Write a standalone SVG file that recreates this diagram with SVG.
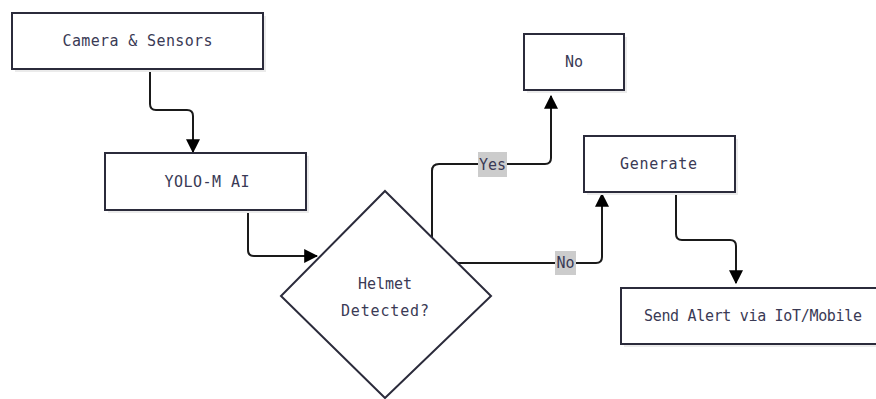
<svg xmlns="http://www.w3.org/2000/svg" width="876" height="399" viewBox="0 0 876 399">
<defs>
<style>
.box{fill:#fff;stroke:#2b2b3b;stroke-width:2}
.sh{fill:#ebebeb;stroke:none}
.t{font-family:"DejaVu Sans Mono","Liberation Mono",monospace;font-size:15px;fill:#3a3a55;text-anchor:middle;dominant-baseline:central}
.c{fill:none;stroke:#1a1a1a;stroke-width:2}
.lb{fill:#cccccc}
</style>
<marker id="a" viewBox="0 0 12 12" refX="11" refY="6" markerWidth="14" markerHeight="14" markerUnits="userSpaceOnUse" orient="auto">
<path d="M0,0 L12,6 L0,12 z" fill="#000"/>
</marker>
</defs>
<rect width="876" height="399" fill="#fff"/>
<g id="connectors">
<path class="c" d="M150,69 V104 Q150,110 156,110 H187 Q193,110 193,116 V152" marker-end="url(#a)"/>
<path class="c" d="M248,210 V250 Q248,256 254,256 H317" marker-end="url(#a)"/>
<path class="c" d="M432,237 V171 Q432,164 439,164 H545 Q551,164 551,158 V96" marker-end="url(#a)"/>
<path class="c" d="M458,263 H596 Q602,263 602,257 V194" marker-end="url(#a)"/>
<path class="c" d="M676,192 V234 Q676,240 682,240 H730 Q736,240 736,246 V283" marker-end="url(#a)"/>
<rect class="lb" x="478" y="152" width="29" height="25"/>
<text class="t" x="492.5" y="164.5" textLength="27">Yes</text>
<rect class="lb" x="555" y="251" width="21" height="24"/>
<text class="t" x="565.5" y="263">No</text>
</g>
<g id="camera">
<rect class="sh" x="15" y="16" width="251" height="56"/>
<rect class="box" x="12" y="13" width="251" height="56"/>
<text class="t" x="137.5" y="41" textLength="150">Camera &amp; Sensors</text>
</g>
<g id="yolo">
<rect class="sh" x="108" y="156" width="201" height="57"/>
<rect class="box" x="105" y="153" width="201" height="57"/>
<text class="t" x="207" y="181.5" textLength="85">YOLO-M AI</text>
</g>
<g id="helmet">
<polygon class="box" points="385,191 491,296 385,398 281,296"/>
<text class="t" x="385" y="284">Helmet</text>
<text class="t" x="385" y="311" textLength="88">Detected?</text>
</g>
<g id="no">
<rect class="sh" x="527" y="37" width="100" height="56"/>
<rect class="box" x="524" y="34" width="100" height="56"/>
<text class="t" x="574" y="62">No</text>
</g>
<g id="generate">
<rect class="sh" x="587" y="139" width="151" height="56"/>
<rect class="box" x="584" y="136" width="151" height="56"/>
<text class="t" x="658.5" y="164" textLength="77">Generate</text>
</g>
<g id="send">
<rect class="sh" x="624" y="291" width="264" height="56"/>
<rect class="box" x="621" y="288" width="264" height="56"/>
<text class="t" x="753" y="316" textLength="218">Send Alert via IoT/Mobile</text>
</g>
</svg>
